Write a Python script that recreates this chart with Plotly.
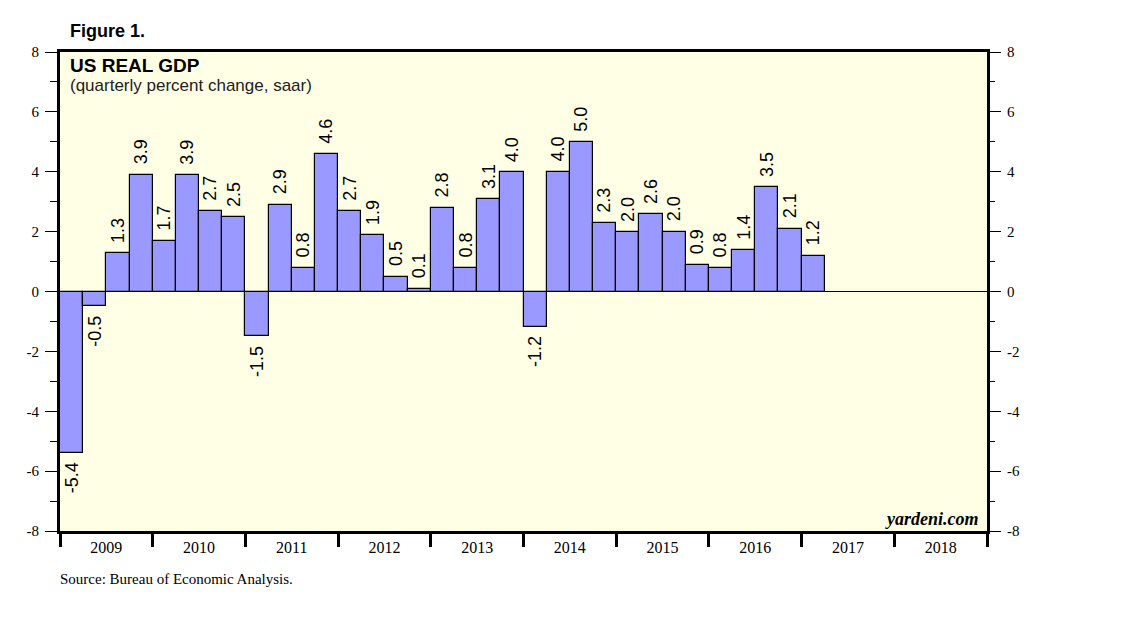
import plotly.graph_objects as go

quarters = ["2009Q1","2009Q2","2009Q3","2009Q4",
            "2010Q1","2010Q2","2010Q3","2010Q4",
            "2011Q1","2011Q2","2011Q3","2011Q4",
            "2012Q1","2012Q2","2012Q3","2012Q4",
            "2013Q1","2013Q2","2013Q3","2013Q4",
            "2014Q1","2014Q2","2014Q3","2014Q4",
            "2015Q1","2015Q2","2015Q3","2015Q4",
            "2016Q1","2016Q2","2016Q3","2016Q4",
            "2017Q1"]
gdp = [-5.4, -0.5, 1.3, 3.9,
       1.7, 3.9, 2.7, 2.5,
       -1.5, 2.9, 0.8, 4.6,
       2.7, 1.9, 0.5, 0.1,
       2.8, 0.8, 3.1, 4.0,
       -1.2, 4.0, 5.0, 2.3,
       2.0, 2.6, 2.0, 0.9,
       0.8, 1.4, 3.5, 2.1,
       1.2]
years = [2009, 2010, 2011, 2012, 2013, 2014, 2015, 2016, 2017, 2018]
y_ticks = [-8, -6, -4, -2, 0, 2, 4, 6, 8]

start = years[0]
xpos = [(int(q[:4]) - start) * 4 + int(q[5]) - 0.5 for q in quarters]
nq = len(years) * 4

serif = "Liberation Serif, Times New Roman, serif"
sans = "Liberation Sans, Arial, sans-serif"

fig = go.Figure()
fig.add_trace(go.Bar(
    x=xpos, y=gdp, width=1,
    marker=dict(color="#9999FF", line=dict(color="black", width=1.2)),
    showlegend=False,
))
fig.add_trace(go.Scatter(x=[0], y=[0], yaxis="y2", mode="markers",
                         marker=dict(opacity=0), showlegend=False, hoverinfo="skip"))
fig.add_trace(go.Scatter(x=[0], y=[0], xaxis="x2", mode="markers",
                         marker=dict(opacity=0), showlegend=False, hoverinfo="skip"))

ytext = [str(v) for v in y_ticks]
fig.update_layout(
    width=1138, height=621,
    margin=dict(l=52, r=159, t=44, b=98),
    paper_bgcolor="white", plot_bgcolor="#FFFFE6",
    bargap=0,
    xaxis=dict(range=[0, nq], tickvals=[i * 4 for i in range(len(years) + 1)],
               ticktext=[""] * (len(years) + 1),
               ticks="outside", ticklen=13, tickwidth=2.5, tickcolor="black",
               showgrid=False, zeroline=False,
               showline=True, linewidth=3, linecolor="black", mirror=True),
    xaxis2=dict(range=[0, nq], overlaying="x", side="bottom",
                tickvals=[i * 4 + 2 for i in range(len(years))],
                ticktext=[str(y) for y in years], ticks="", ticklabelstandoff=5,
                tickfont=dict(family=serif, size=16, color="black"),
                showgrid=False, zeroline=False, showline=False),
    yaxis=dict(range=[-8, 8], tickvals=y_ticks, ticktext=ytext, ticks="outside", ticklen=12,
               tickwidth=1, tickcolor="black", ticklabelstandoff=3,
               minor=dict(dtick=1, tick0=-8, ticks="outside", ticklen=7, tickwidth=1, tickcolor="black"),
               tickfont=dict(family=serif, size=15, color="black"),
               showgrid=False, zeroline=True, zerolinecolor="black", zerolinewidth=1,
               showline=True, linewidth=3, linecolor="black", mirror=True),
    yaxis2=dict(range=[-8, 8], overlaying="y", side="right", tickvals=y_ticks, ticktext=ytext,
                ticks="outside", ticklen=13, tickwidth=1, tickcolor="black", ticklabelstandoff=3,
                minor=dict(dtick=1, tick0=-8, ticks="outside", ticklen=7, tickwidth=1, tickcolor="black"),
                tickfont=dict(family=serif, size=15, color="black"),
                showgrid=False, zeroline=False, showline=False),
)

for x, v in zip(xpos, gdp):
    fig.add_annotation(x=x, y=v, text=f"{v:.1f}", textangle=-90, showarrow=False,
                       xanchor="center", yanchor="bottom" if v >= 0 else "top",
                       yshift=8 if v >= 0 else -7,
                       font=dict(family=sans, size=18, color="black"))

fig.add_annotation(text="<b>Figure 1.</b>", xref="paper", yref="paper", x=0, y=1,
                   xshift=8, yshift=9, xanchor="left", yanchor="bottom", showarrow=False,
                   font=dict(family=sans, size=18, color="black"))
fig.add_annotation(text="<b>US REAL GDP</b>", xref="paper", yref="paper", x=0, y=1,
                   xshift=8, yshift=-1, xanchor="left", yanchor="top", showarrow=False,
                   font=dict(family=sans, size=19, color="black"))
fig.add_annotation(text="(quarterly percent change, saar)", xref="paper", yref="paper", x=0, y=1,
                   xshift=8, yshift=-22, xanchor="left", yanchor="top", showarrow=False,
                   font=dict(family=sans, size=17, color="#222"))
fig.add_annotation(text="<b><i>yardeni.com</i></b>", xref="paper", yref="paper", x=1, y=0,
                   xshift=-6, yshift=0, xanchor="right", yanchor="bottom", showarrow=False,
                   font=dict(family=serif, size=18, color="black"))
fig.add_annotation(text="Source: Bureau of Economic Analysis.", xref="paper", yref="paper", x=0, y=0,
                   xshift=-2, yshift=-38, xanchor="left", yanchor="top", showarrow=False,
                   font=dict(family=serif, size=15, color="black"))

fig.write_html("out.html")
